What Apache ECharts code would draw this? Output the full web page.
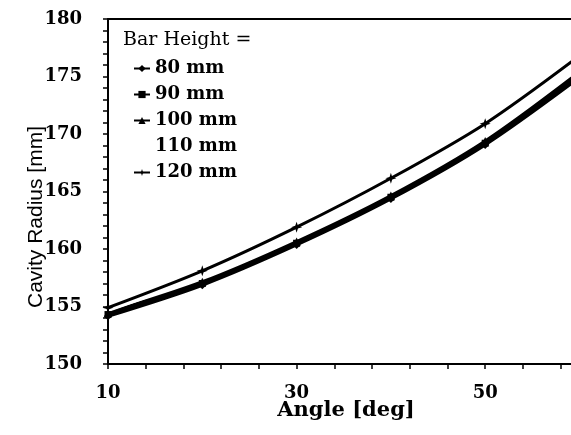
<!DOCTYPE html>
<html>
<head>
<meta charset="utf-8">
<script src="https://cdn.jsdelivr.net/npm/echarts@6/dist/echarts.min.js"></script>
<style>
html,body{margin:0;padding:0;background:#fff;}
#c{width:571px;height:435px;}
</style>
</head>
<body>
<div id="c"></div>
<script>
// Data
const angles = [10, 20, 30, 40, 50, 60];
const bar80  = [154.15, 156.85, 160.35, 164.35, 169.05, 174.9];
const bar90  = [154.3, 157.0, 160.5, 164.5, 169.2, 175.2];
const bar100 = [154.45, 157.15, 160.65, 164.65, 169.4, 175.4];
const bar110 = [154.6, 157.6, 161.2, 165.4, 170.1, 175.8];
const bar120 = [154.9, 158.1, 161.9, 166.15, 170.9, 176.8];
const seriesNames = ['80 mm', '90 mm', '100 mm', '110 mm', '120 mm'];
const legendTitle = 'Bar Height =';
const xTitle = 'Angle [deg]';
const yTitle = 'Cavity Radius [mm]';
const xMin = 10, xMaxVisible = 59.1;

const pair = arr => angles.map((a, i) => [a, arr[i]]);
const serif = 'DejaVu Serif';

const chart = echarts.init(document.getElementById('c'), null, {renderer: 'canvas'});

function mk(name, data, symbol, size, width, color) {
  return {
    name: name, type: 'line', xAxisIndex: 0, yAxisIndex: 0,
    data: pair(data), smooth: 0.3, symbol: symbol, symbolSize: size,
    showSymbol: true, clip: true,
    lineStyle: {color: color, width: width},
    itemStyle: {color: color, borderWidth: 0},
    emphasis: {disabled: true}, animation: false
  };
}

const starPath = 'path://M5,0 L6.2,3.8 L10,5 L6.2,6.2 L5,10 L3.8,6.2 L0,5 L3.8,3.8 Z';

chart.setOption({
  animation: false,
  backgroundColor: '#fff',
  grid: {left: 108, top: 19, bottom: 71, right: 0},
  legend: {
    orient: 'vertical', left: 128, top: 54,
    itemWidth: 16, itemHeight: 9, itemGap: 7,
    data: seriesNames,
    textStyle: {fontFamily: serif, fontWeight: 'bold', fontSize: 18, color: '#000', lineHeight: 19},
    selectedMode: false
  },
  xAxis: [{
    type: 'value', min: xMin, max: xMaxVisible, interval: 4, position: 'bottom',
    axisLine: {show: true, onZero: false, lineStyle: {color: '#000', width: 2}},
    axisTick: {show: true, inside: false, length: 5, lineStyle: {color: '#000', width: 1.5}},
    splitLine: {show: false},
    axisLabel: {
      margin: 20, color: '#000', fontFamily: serif, fontWeight: 'bold', fontSize: 18,
      showMaxLabel: false,
      formatter: v => ((Math.round(v) === v && (v - 10) % 20 === 0) ? String(v) : '')
    }
  }, {
    type: 'value', min: xMin, max: xMaxVisible, position: 'top',
    axisLine: {show: true, onZero: false, lineStyle: {color: '#000', width: 2}},
    axisTick: {show: false}, axisLabel: {show: false}, splitLine: {show: false}
  }],
  yAxis: [{
    type: 'value', min: 150, max: 180, interval: 1,
    axisLine: {show: true, onZero: false, lineStyle: {color: '#000', width: 2}},
    axisTick: {show: true, inside: false, length: 5, lineStyle: {color: '#000', width: 1.5}},
    splitLine: {show: false},
    axisLabel: {
      margin: 26, color: '#000', fontFamily: serif, fontWeight: 'bold', fontSize: 18,
      formatter: v => (v % 5 === 0 ? String(v) : '')
    }
  }],
  series: [
    mk(seriesNames[0], bar80, 'diamond', 8, 3, '#000'),
    mk(seriesNames[1], bar90, 'rect', 7, 4, '#000'),
    mk(seriesNames[2], bar100, 'triangle', 8, 3, '#000'),
    mk(seriesNames[3], bar110, 'none', 6, 2, '#ffffff'),
    mk(seriesNames[4], bar120, starPath, 11, 3, '#000')
  ],
  graphic: [
    {type: 'text', left: 123, top: 31, style: {text: legendTitle, fontFamily: serif, fontSize: 19, fill: '#000'}},
    {type: 'text', x: 346, y: 411, style: {text: xTitle, fontFamily: serif, fontWeight: 'bold', fontSize: 21, fill: '#000', align: 'center', verticalAlign: 'middle'}},
    {type: 'text', x: 36, y: 217, rotation: Math.PI / 2, style: {text: yTitle, fontFamily: 'Liberation Sans', fontSize: 21, fill: '#000', align: 'center', verticalAlign: 'middle'}}
  ]
});
</script>
</body>
</html>
